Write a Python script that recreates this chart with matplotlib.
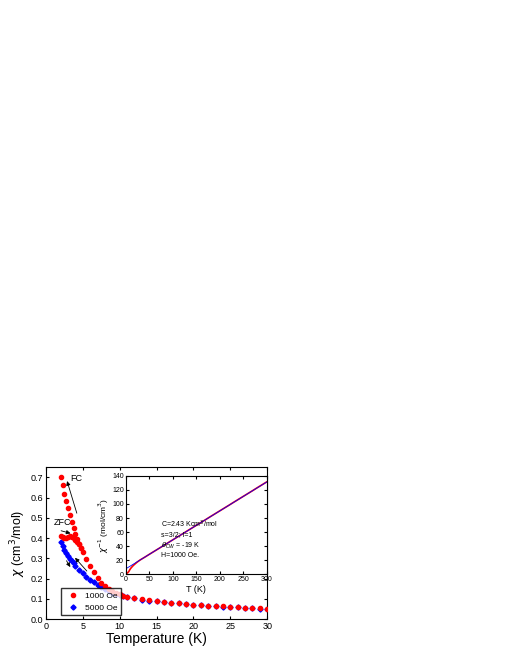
import numpy as np
import matplotlib.pyplot as plt

plt.rcParams['font.family'] = ['Liberation Sans', 'DejaVu Sans']

# 1000 Oe, field cooled
T_fc = [2.0, 2.25, 2.5, 2.75, 3.0, 3.25, 3.5, 3.75, 4.0, 4.25, 4.5, 4.75, 5.0, 5.5, 6.0, 6.5, 7.0,
        7.5, 8.0, 8.5, 9.0, 9.5, 10.0, 10.5, 11.0, 12.0, 13.0, 14.0, 15.0, 16.0, 17.0, 18.0, 19.0,
        20.0, 21.0, 22.0, 23.0, 24.0, 25.0, 26.0, 27.0, 28.0, 29.0, 30.0]
chi_fc = [0.700, 0.660, 0.620, 0.585, 0.550, 0.515, 0.480, 0.450, 0.420, 0.395, 0.370, 0.350, 0.330,
          0.295, 0.262, 0.232, 0.205, 0.180, 0.162, 0.148, 0.137, 0.128, 0.122, 0.116, 0.111, 0.104,
          0.098, 0.093, 0.089, 0.085, 0.081, 0.078, 0.075, 0.072, 0.069, 0.067, 0.065, 0.063, 0.061,
          0.059, 0.057, 0.055, 0.053, 0.052]
# 1000 Oe, zero field cooled
T_zfc = [2.0, 2.25, 2.5, 2.75, 3.0, 3.25, 3.5, 3.75, 4.0, 4.25, 4.5, 4.75]
chi_zfc = [0.412, 0.405, 0.400, 0.402, 0.406, 0.410, 0.408, 0.400, 0.392, 0.382, 0.370, 0.350]
# 5000 Oe
T_5k = [2.0, 2.25, 2.5, 2.75, 3.0, 3.25, 3.5, 3.75, 4.0, 4.5, 5.0, 5.5, 6.0, 6.5, 7.0, 7.5, 8.0,
        8.5, 9.0, 9.5, 10.0, 10.5, 11.0, 12.0, 13.0, 14.0, 15.0, 16.0, 17.0, 18.0, 19.0, 20.0,
        21.0, 22.0, 23.0, 24.0, 25.0, 26.0, 27.0, 28.0, 29.0, 30.0]
chi_5k = [0.380, 0.360, 0.342, 0.326, 0.312, 0.298, 0.286, 0.275, 0.264, 0.244, 0.226, 0.210,
          0.195, 0.181, 0.168, 0.157, 0.147, 0.139, 0.131, 0.124, 0.118, 0.113, 0.109, 0.102,
          0.096, 0.091, 0.087, 0.083, 0.080, 0.077, 0.074, 0.071, 0.068, 0.066, 0.064, 0.062,
          0.060, 0.058, 0.056, 0.054, 0.052, 0.050]

# inset: inverse susceptibility, H=1000 Oe
T_inv = [2, 3, 4, 5, 6, 8, 10, 12, 14, 16, 18, 20, 22, 25, 28, 30, 35, 40, 50, 60, 70, 80, 90,
         100, 110, 120, 130, 140, 150, 160, 170, 180, 190, 200, 210, 220, 230, 240, 250, 260,
         270, 280, 290, 300]
inv_chi = [1.4, 1.8, 2.4, 3.0, 3.8, 6.2, 8.2, 9.8, 11.3, 12.6, 13.9, 15.0, 16.2, 17.8, 19.2, 20.2,
           22.2, 24.2, 28.4, 32.5, 36.6, 40.7, 44.9, 49.0, 53.1, 57.2, 61.4, 65.5, 69.6, 73.7,
           77.8, 82.0, 86.1, 90.2, 94.3, 98.4, 102.6, 106.7, 110.8, 114.9, 119.0, 123.2, 127.3,
           131.4]
C_fit = 2.43
theta = -19

fig = plt.figure(figsize=(5.1, 6.6), dpi=100)
ax = fig.add_axes([0.090, 0.062, 0.434, 0.230])

ax.plot(T_fc, chi_fc, 'o', color='red', ms=3, label='1000 Oe', zorder=3)
ax.plot(T_zfc, chi_zfc, 'o', color='red', ms=3, zorder=3)
ax.plot(T_5k, chi_5k, 'D', color='blue', ms=2.6, label='5000 Oe', zorder=2)
ax.set_xlim(0, 30)
ax.set_ylim(0, 0.75)
ax.set_xticks(range(0, 31, 5))
ax.set_yticks(np.arange(0, 0.71, 0.1))
ax.set_xlabel('Temperature (K)', fontsize=10, labelpad=1)
ax.set_ylabel(r'$\chi$ (cm$^3$/mol)', fontsize=9, labelpad=2)
ax.tick_params(labelsize=6.5, direction='in', length=2.5, pad=2, top=True, right=True)
ax.legend(loc='lower left', fontsize=6, frameon=True, fancybox=False, edgecolor='black',
          handletextpad=0.5, borderpad=0.4, bbox_to_anchor=(0.05, 0.0))

arr = dict(arrowstyle='-|>', color='black', lw=0.6, mutation_scale=6)
ax.annotate('', xy=(2.76, 0.695), xytext=(4.3, 0.51), arrowprops=arr)
ax.text(3.3, 0.68, 'FC', fontsize=6.5)
ax.annotate('', xy=(3.7, 0.42), xytext=(1.7, 0.44), arrowprops=arr)
ax.text(1.0, 0.465, 'ZFC', fontsize=6.5)
ax.annotate('', xy=(3.7, 0.313), xytext=(5.8, 0.227), arrowprops=arr)
ax.annotate('', xy=(3.5, 0.245), xytext=(2.6, 0.30), arrowprops=arr)

ins = fig.add_axes([0.247, 0.130, 0.276, 0.149])
ins.plot(T_inv, inv_chi, '-', color='red', lw=1.2)
fit_T = np.array([0, 300])
ins.plot(fit_T, (fit_T - theta) / C_fit, '-', color='blue', lw=0.6)
ins.set_xlim(0, 300)
ins.set_ylim(0, 140)
ins.set_xticks(range(0, 301, 50))
ins.set_yticks(range(0, 141, 20))
ins.tick_params(labelsize=5, direction='in', length=2, pad=1.5, top=True, right=True)
ins.set_xlabel('T (K)', fontsize=6.5, labelpad=1)
ins.set_ylabel(r'$\chi^{-1}$ (mol/cm$^3$)', fontsize=6, labelpad=1)
ins.text(75, 24, 'C=2.43 Kcm$^3$/mol\ns=3/2; l=1\n' + r'$\theta_{CW}$ = -19 K' + '\nH=1000 Oe.',
         fontsize=5, linespacing=1.3)

fig.savefig('out.png', dpi=100)
